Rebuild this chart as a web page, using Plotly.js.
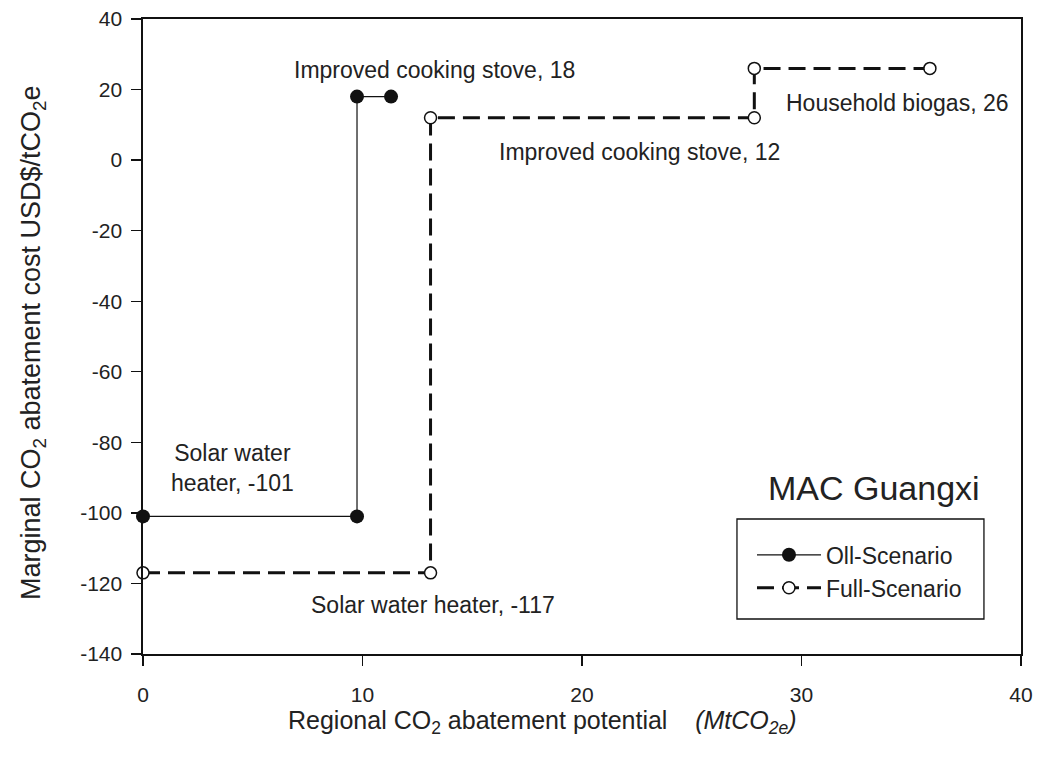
<!DOCTYPE html>
<html>
<head>
<meta charset="utf-8">
<script src="https://cdn.plot.ly/plotly-3.0.1.min.js"></script>
<style>html,body{margin:0;padding:0;background:#fff;}#chart{width:1037px;height:769px;}</style>
</head>
<body>
<div id="chart"></div>
<script>
// Oll-Scenario step curve (cumulative potential, marginal cost)
const ollX = [0, 9.75, 9.75, 11.3];
const ollY = [-101, -101, 18, 18];
// Full-Scenario step curve
const fullX = [0, 13.1, 13.1, 27.85, 27.85, 35.85];
const fullY = [-117, -117, 12, 12, 26, 26];

const xTicks = [0, 10, 20, 30, 40];
const yTicks = [-140, -120, -100, -80, -60, -40, -20, 0, 20, 40];

// Point labels
const labelText = ["Improved cooking stove, 18", "Improved cooking stove, 12", "Household biogas, 26", "Solar water<br>heater, -101", "Solar water heater, -117"];
const labelX = [13.3, 22.6, 34.37, 4.1, 13.2];
const labelY = [25.5, 2.3, 16.2, -87.3, -126];

const FONT = "Liberation Sans, Arial, sans-serif";
const TXT = "#222";

const traces = [
  {
    x: ollX, y: ollY, type: "scatter", mode: "lines+markers",
    name: "Oll-Scenario", legendgroup: "a",
    line: {color: "#111", width: 1.2},
    marker: {color: "#111", size: 14, line: {color: "#111", width: 0}},
    cliponaxis: false
  },
  {
    x: fullX, y: fullY, type: "scatter", mode: "lines+markers",
    name: "Full-Scenario", legendgroup: "b",
    line: {color: "#111", width: 3, dash: "17px,8px"},
    marker: {color: "#fff", size: 12, line: {color: "#111", width: 1.5}},
    cliponaxis: false
  }
];

const annotations = labelText.map((t, i) => ({
  text: t, x: labelX[i], y: labelY[i], xref: "x", yref: "y",
  showarrow: false, font: {family: FONT, size: 23, color: TXT}, align: "center"
}));
annotations.push({
  text: "MAC Guangxi", xref: "paper", yref: "paper", x: 0.8326, y: 0.261,
  xanchor: "center", yanchor: "middle", showarrow: false,
  font: {family: FONT, size: 34, color: TXT}
});
// axis titles
annotations.push({
  text: "Regional CO<sub>2</sub> abatement potential &nbsp;&nbsp;&nbsp;<i>(MtCO<sub>2e</sub>)</i>",
  xref: "paper", yref: "paper", x: 0.455, y: -0.107, xanchor: "center", yanchor: "middle",
  showarrow: false, font: {family: FONT, size: 25, color: TXT}
});
annotations.push({
  text: "Marginal CO<sub>2</sub> abatement cost USD$/tCO<sub>2</sub>e",
  xref: "paper", yref: "paper", x: -0.125, y: 0.49, xanchor: "center", yanchor: "middle",
  textangle: -90, showarrow: false, font: {family: FONT, size: 27, color: TXT}
});

const layout = {
  width: 1037, height: 769,
  margin: {l: 143, r: 16, t: 19, b: 115},
  paper_bgcolor: "#fff", plot_bgcolor: "#fff",
  font: {family: FONT, size: 21, color: TXT},
  showlegend: true,
  legend: {
    x: 0.6936, y: 0.19, xanchor: "left", yanchor: "top",
    borderwidth: 0, bgcolor: "rgba(0,0,0,0)",
    font: {family: FONT, size: 23, color: TXT},
    tracegroupgap: 0, itemwidth: 64
  },
  shapes: [{
    type: "rect", xref: "paper", yref: "paper",
    x0: 0.6765, x1: 0.9578, y0: 0.0551, y1: 0.2126,
    line: {color: "#111", width: 1.3}, fillcolor: "rgba(0,0,0,0)", layer: "below"
  }],
  xaxis: {
    range: [0, 40], tickvals: xTicks, ticktext: xTicks.map(String),
    showgrid: false, zeroline: false,
    showline: true, linecolor: "#111", linewidth: 1.6, mirror: true,
    ticks: "outside", ticklen: 10, tickwidth: 1.3, tickcolor: "#111",
    tickfont: {family: FONT, size: 21, color: TXT},
    ticklabelstandoff: 11
  },
  yaxis: {
    range: [-140, 40], tickvals: yTicks, ticktext: yTicks.map(String),
    showgrid: false, zeroline: false,
    showline: true, linecolor: "#111", linewidth: 1.6, mirror: true,
    ticks: "outside", ticklen: 10, tickwidth: 1.3, tickcolor: "#111",
    tickfont: {family: FONT, size: 21, color: TXT},
    ticklabelstandoff: 5
  },
  annotations: annotations
};

Plotly.newPlot("chart", traces, layout, {displayModeBar: false, staticPlot: true});
</script>
</body>
</html>
